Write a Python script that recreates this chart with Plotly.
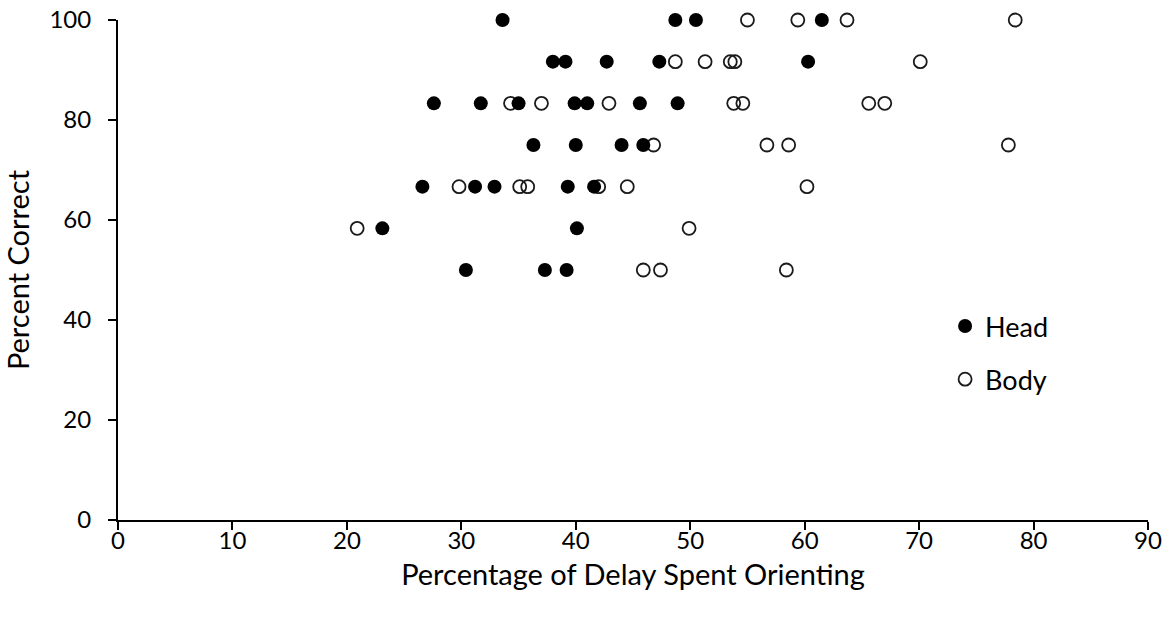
import plotly.graph_objects as go

# Percent correct levels (12-trial scale)
head_x = [33.6, 48.7, 50.5, 61.5,
          38.0, 39.1, 42.7, 47.3, 60.3,
          27.6, 31.7, 35.0, 39.9, 41.0, 45.6, 48.9,
          36.3, 40.0, 44.0, 45.9,
          26.6, 31.2, 32.9, 39.3, 41.6,
          23.1, 40.1,
          30.4, 37.3, 39.2]
head_y = [100, 100, 100, 100,
          91.67, 91.67, 91.67, 91.67, 91.67,
          83.33, 83.33, 83.33, 83.33, 83.33, 83.33, 83.33,
          75, 75, 75, 75,
          66.67, 66.67, 66.67, 66.67, 66.67,
          58.33, 58.33,
          50, 50, 50]

body_x = [55.0, 59.4, 63.7, 78.4,
          48.7, 51.3, 53.5, 53.9, 70.1,
          34.3, 37.0, 42.9, 53.8, 54.6, 65.6, 67.0,
          46.8, 56.7, 58.6, 77.8,
          29.8, 35.1, 35.8, 42.0, 44.5, 60.2,
          20.9, 49.9,
          45.9, 47.4, 58.4]
body_y = [100, 100, 100, 100,
          91.67, 91.67, 91.67, 91.67, 91.67,
          83.33, 83.33, 83.33, 83.33, 83.33, 83.33, 83.33,
          75, 75, 75, 75,
          66.67, 66.67, 66.67, 66.67, 66.67, 66.67,
          58.33, 58.33,
          50, 50, 50]

x_ticks = list(range(0, 91, 10))
y_ticks = list(range(0, 101, 20))

FONT = "Lato, 'Open Sans', sans-serif"

fig = go.Figure()
fig.add_trace(go.Scatter(
    x=body_x, y=body_y, mode="markers", name="Body",
    legendgroup="body", legendrank=2,
    marker=dict(symbol="circle-open", size=13, color="#1a1a1a",
                line=dict(width=1.8, color="#1a1a1a")),
    cliponaxis=False,
))
fig.add_trace(go.Scatter(
    x=head_x, y=head_y, mode="markers", name="Head",
    legendgroup="head", legendrank=1,
    marker=dict(symbol="circle", size=14, color="black"),
    cliponaxis=False,
))

axis_common = dict(
    showline=True, linecolor="black", linewidth=2,
    ticks="outside", ticklen=8, tickwidth=1.5, tickcolor="black",
    showgrid=False, zeroline=False, automargin=False,
    tickfont=dict(family=FONT, size=24, color="black"),
)

fig.update_xaxes(range=[0, 90], tickvals=x_ticks, ticklabelstandoff=-10,
                 title=dict(text="Percentage of Delay Spent Orienting",
                            font=dict(family=FONT, size=29, color="black"),
                            standoff=12),
                 **axis_common)
fig.update_yaxes(range=[0, 100], tickvals=y_ticks, ticklabelstandoff=12,
                 title=dict(text="Percent Correct",
                            font=dict(family=FONT, size=29, color="black"),
                            standoff=12),
                 **axis_common)

fig.update_layout(
    width=1172, height=624, autosize=False,
    margin=dict(l=118, r=24, t=20, b=104),
    plot_bgcolor="white", paper_bgcolor="white",
    font=dict(family=FONT, color="black"),
    legend=dict(x=0.803, y=0.436, xanchor="left", yanchor="top",
                traceorder="grouped", tracegroupgap=15,
                font=dict(family=FONT, size=27, color="black"),
                bgcolor="rgba(0,0,0,0)"),
)

fig.write_html("out.html")
